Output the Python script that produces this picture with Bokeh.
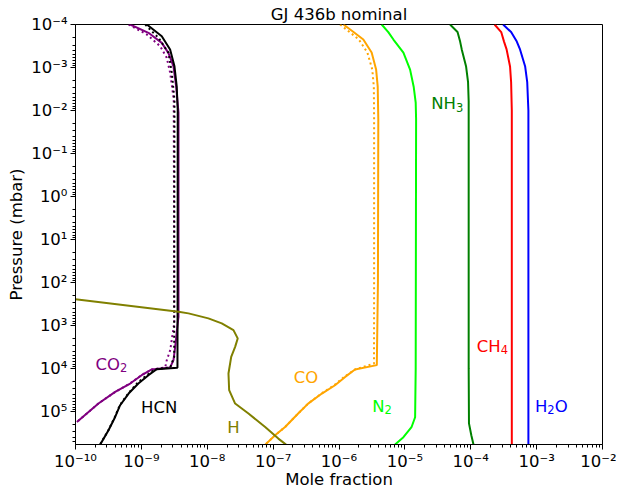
import numpy as np
from bokeh.plotting import figure
from bokeh.models import Range1d, FixedTicker, CustomJSTickFormatter, Label
from bokeh.embed import file_html
from bokeh.resources import INLINE

# ---------------- data (pressure in mbar, mole fraction) ----------------
h2o_p = [1e-4, 1.5e-4, 2.5e-4, 3.8e-4, 9.5e-4, 2.2e-3, 1e-2, 1e5, 5.9e5]
h2o_x = [3.1e-4, 4.1e-4, 5.0e-4, 5.6e-4, 6.7e-4, 7.2e-4, 7.5e-4, 7.5e-4, 7.5e-4]

ch4_p = [1e-4, 1.5e-4, 2.5e-4, 3.8e-4, 9.5e-4, 2.2e-3, 1e-2, 5.9e5]
ch4_x = [2.3e-4, 2.9e-4, 3.2e-4, 3.5e-4, 3.95e-4, 4.1e-4, 4.2e-4, 4.2e-4]

nh3_p = [1e-4, 1.5e-4, 2.5e-4, 3.8e-4, 9.5e-4, 2.2e-3, 6e-3, 1e4, 1.9e5, 3.6e5, 5.9e5]
nh3_x = [4.85e-5, 6.3e-5, 6.9e-5, 7.3e-5, 8.5e-5, 9.1e-5, 9.3e-5, 9.3e-5, 9.4e-5, 1.02e-4, 1.1e-4]

n2_p = [1e-4, 1.5e-4, 2.24e-4, 4.5e-4, 1.12e-3, 2.8e-3, 6.6e-3, 1.6e-2, 1e4, 1.37e5, 2.34e5, 4.0e5, 5.9e5]
n2_x = [4.45e-6, 5.6e-6, 6.7e-6, 9.5e-6, 1.2e-5, 1.36e-5, 1.46e-5, 1.48e-5, 1.46e-5, 1.43e-5, 1.26e-5, 9.5e-6, 7.1e-6]

co_p = [1e-4, 1.5e-4, 2.24e-4, 4.5e-4, 1.12e-3, 2.8e-3, 1.6e-2, 1e2, 8.4e3, 1.06e4,
        1.58e4, 2.47e4, 3.85e4, 6.6e4, 1.12e5, 2.31e5, 3.6e5, 5.94e5]
co_x = [1.17e-6, 1.66e-6, 2.34e-6, 3.13e-6, 3.66e-6, 3.87e-6, 3.95e-6, 3.9e-6, 3.75e-6, 1.75e-6,
        1.24e-6, 8.7e-7, 5.5e-7, 3.4e-7, 2.4e-7, 1.52e-7, 1.07e-7, 7.6e-8]
co_dot_p = [1e-4, 1.5e-4, 2.24e-4, 4.5e-4, 1.12e-3, 2.8e-3, 1.6e-2, 1e2, 7.7e3, 1.06e4,
            1.58e4, 2.47e4, 3.85e4, 6.6e4, 1.12e5, 2.31e5, 3.6e5, 5.94e5]
co_dot_x = [1.04e-6, 1.45e-6, 2.0e-6, 2.7e-6, 3.2e-6, 3.38e-6, 3.41e-6, 3.41e-6, 3.4e-6, 1.75e-6,
            1.2e-6, 8.4e-7, 5.4e-7, 3.4e-7, 2.4e-7, 1.52e-7, 1.07e-7, 7.6e-8]

h_p = [248, 482, 525, 687, 897, 1288, 2009, 3155, 5395, 1.315e4, 3.22e4, 6.58e4, 1.125e5, 2.31e5, 4.3e5, 5.94e5]
h_x = [1e-10, 3.66e-9, 5.19e-9, 1.04e-8, 1.66e-8, 2.5e-8, 2.9e-8, 2.65e-8, 2.31e-8, 2.1e-8, 2.15e-8,
       2.65e-8, 4.22e-8, 7.57e-8, 1.2e-7, 1.57e-7]

hcn_p = [1e-4, 1.88e-4, 3.83e-4, 9.4e-4, 2.74e-3, 9.6e-3, 1e2, 9.7e3, 1.05e4, 1.44e4, 2.25e4,
         3.85e4, 7.2e4, 1.35e5, 2.76e5, 5.94e5]
hcn_x = [1.21e-9, 2.04e-9, 2.73e-9, 3.18e-9, 3.44e-9, 3.56e-9, 3.55e-9, 3.53e-9, 1.71e-9, 1.28e-9, 9.0e-10,
         6.4e-10, 4.76e-10, 4.0e-10, 3.17e-10, 2.37e-10]
hcn_dot_p = [1e-4, 1.2e-4, 2.04e-4, 4.57e-4, 1.34e-3, 5.6e-3, 1e2, 5.4e3, 9.5e3, 1.05e4, 1.44e4, 2.07e4,
             3.85e4, 7.2e4, 1.35e5, 2.76e5, 5.94e5]
hcn_dot_x = [1.15e-9, 1.28e-9, 1.82e-9, 2.58e-9, 2.9e-9, 3.18e-9, 3.15e-9, 3.15e-9, 2.74e-9, 1.62e-9, 1.21e-9,
             9.0e-10, 6.3e-10, 4.7e-10, 3.95e-10, 3.15e-10, 2.35e-10]

co2_p = [1e-4, 1.56e-4, 2.67e-4, 4.57e-4, 9.4e-4, 2.74e-3, 1.12e-2, 1e2, 631, 897, 3155, 6.44e3, 9.5e3,
         1.06e4, 1.44e4, 2.25e4, 3.53e4, 6.58e4, 1.77e5]
co2_x = [6.76e-10, 1.28e-9, 2.04e-9, 2.57e-9, 3.07e-9, 3.37e-9, 3.66e-9, 3.66e-9, 3.66e-9, 3.56e-9, 3.26e-9,
         3.07e-9, 2.74e-9, 1.44e-9, 1.01e-9, 6.76e-10, 4.0e-10, 2.23e-10, 1.05e-10]
co2_dot_p = [1e-4, 1.71e-4, 3.2e-4, 5.97e-4, 1.34e-3, 5.6e-3, 1e2, 900, 3.77e3, 6.44e3, 9.5e3, 1.06e4,
             1.44e4, 2.25e4, 3.53e4, 6.58e4, 1.77e5]
co2_dot_x = [6.4e-10, 1.21e-9, 1.93e-9, 2.43e-9, 2.74e-9, 3.1e-9, 3.15e-9, 3.15e-9, 2.74e-9, 2.43e-9, 2.3e-9,
             1.44e-9, 1.0e-9, 6.7e-10, 4.0e-10, 2.23e-10, 1.05e-10]

x_decades = [1e-10, 1e-9, 1e-8, 1e-7, 1e-6, 1e-5, 1e-4, 1e-3, 1e-2]
y_decades = [1e-4, 1e-3, 1e-2, 1e-1, 1e0, 1e1, 1e2, 1e3, 1e4, 1e5]

# species labels: (parts [(text, is_subscript)], x, y, colour)
species_labels = [
    ([("CO", False), ("2", True)], 3.5e-10, 7.6e3, "#800080"),
    ([("HCN", False)], 1.86e-9, 7.9e4, "black"),
    ([("H", False)], 2.5e-8, 2.3e5, "#808000"),
    ([("CO", False)], 3.15e-7, 1.52e4, "#ffa500"),
    ([("N", False), ("2", True)], 4.5e-6, 7.2e4, "#00ff00"),
    ([("NH", False), ("3", True)], 4.4e-5, 6.6e-3, "#008000"),
    ([("CH", False), ("4", True)], 2.13e-4, 2.9e3, "#ff0000"),
    ([("H", False), ("2", True), ("O", False)], 1.67e-3, 7.2e4, "#0000ff"),
]

# ---------------- figure ----------------
FONT = "DejaVu Sans"
FSV = 16.5
FS = "%.1fpx" % FSV
SUB = 0.7 * FSV

p = figure(width=616, height=491, x_axis_type="log", y_axis_type="log",
           x_range=Range1d(1e-10, 1e-2), y_range=Range1d(5.9e5, 1e-4),
           output_backend="svg", toolbar_location=None,
           min_border_left=75, min_border_right=14, min_border_top=24, min_border_bottom=40,
           title="GJ 436b nominal")
p.title.align = "center"
p.title.text_font = FONT
p.title.text_font_size = FS
p.title.text_font_style = "normal"
p.title.text_color = "black"
p.title.standoff = 2
p.grid.visible = False
p.outline_line_color = "black"
p.outline_line_width = 1
p.background_fill_color = "white"
p.border_fill_color = "white"

fmt = CustomJSTickFormatter(code="""
const e = Math.round(Math.log10(tick));
const sup = {'-':'\u207b','0':'\u2070','1':'\u00b9','2':'\u00b2','3':'\u00b3','4':'\u2074',
             '5':'\u2075','6':'\u2076','7':'\u2077','8':'\u2078','9':'\u2079'};
return '10' + String(e).split('').map(c => sup[c]).join('');
""")

x_minor = [m * 10.0 ** e for e in range(-10, -2) for m in range(2, 10)]
y_minor = [m * 10.0 ** e for e in range(-4, 6) for m in range(2, 10)]

for ax, ticks, minor in ((p.xaxis[0], x_decades, x_minor), (p.yaxis[0], y_decades, y_minor)):
    ax.ticker = FixedTicker(ticks=ticks, minor_ticks=minor)
    ax.formatter = fmt
    ax.major_label_text_font = FONT
    ax.major_label_text_font_size = FS
    ax.major_label_text_color = "black"
    ax.axis_label_text_font = FONT
    ax.axis_label_text_font_size = FS
    ax.axis_label_text_font_style = "normal"
    ax.axis_label_text_color = "black"
    ax.axis_line_color = "black"
    ax.major_tick_line_color = "black"
    ax.minor_tick_line_color = "black"
    ax.major_tick_in = 0
    ax.major_tick_out = 5
    ax.minor_tick_in = 0
    ax.minor_tick_out = 3
    ax.major_label_standoff = 3

p.xaxis.axis_label = "Mole fraction"
p.xaxis.major_label_standoff = 2
p.xaxis.axis_label_standoff = -4
p.yaxis.axis_label = "Pressure (mbar)"
p.yaxis.axis_label_standoff = 2

LW = 2
p.line(h2o_x, h2o_p, line_color="#0000ff", line_width=LW)
p.line(ch4_x, ch4_p, line_color="#ff0000", line_width=LW)
p.line(nh3_x, nh3_p, line_color="#008000", line_width=LW)
p.line(n2_x, n2_p, line_color="#00ff00", line_width=LW)
p.line(co_x, co_p, line_color="#ffa500", line_width=LW)
p.line(co_dot_x, co_dot_p, line_color="#ffa500", line_width=LW, line_dash="2 3")
p.line(co2_x, co2_p, line_color="#800080", line_width=LW)
p.line(co2_dot_x, co2_dot_p, line_color="#800080", line_width=LW, line_dash="2 3")
p.line(hcn_x, hcn_p, line_color="black", line_width=LW)
p.line(hcn_dot_x, hcn_dot_p, line_color="black", line_width=LW, line_dash="2 3")
p.line(h_x, h_p, line_color="#808000", line_width=LW)

# DejaVu Sans advance widths (em) for the glyphs used in labels
ADV = {"C": 0.698, "O": 0.787, "N": 0.748, "H": 0.752,
       "2": 0.636, "3": 0.636, "4": 0.636}

def text_width(s, size):
    return sum(ADV[c] for c in s) * size

for parts, lx, ly, col in species_labels:
    widths = [text_width(t, SUB if sub else FSV) for t, sub in parts]
    xo = -sum(widths) / 2.0
    for (t, sub), w in zip(parts, widths):
        p.add_layout(Label(x=lx, y=ly, text=t, text_color=col, text_font=FONT,
                           text_font_size="%.1fpx" % (SUB if sub else FSV),
                           text_align="left", text_baseline="alphabetic",
                           x_offset=xo, y_offset=(-4.5 if sub else -1)))
        xo += w

open("out.html", "w").write(file_html(p, INLINE))
